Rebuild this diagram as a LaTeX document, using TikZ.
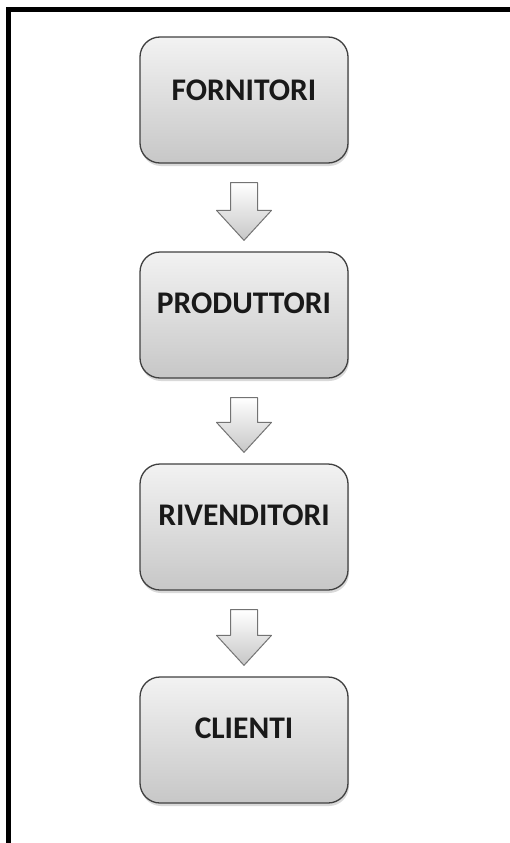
\documentclass[tikz,border=0pt]{standalone}
\usepackage{fontspec}
\setmainfont{Carlito}
\usetikzlibrary{shadows}
\begin{document}
\begin{tikzpicture}[x=1pt,y=-1pt,
  stagebox/.style={draw=black!75,line width=1.3pt,rounded corners=20pt,
    minimum width=208pt,minimum height=126pt,
    top color=black!5,bottom color=black!22,
    drop shadow={shadow xshift=1pt,shadow yshift=-3pt,opacity=0.25,fill=black!60}},
  stagelabel/.style={font=\fontsize{31.5}{38}\selectfont\bfseries,text=black!90},
  flowarrow/.style={draw=black!55,line width=1pt,line join=round,
    top color=white,bottom color=black!22}]
  \useasboundingbox (0,0) rectangle (510,843);
  % outer frame (left and top edges)
  \draw[line width=5pt] (8.5,843) -- (8.5,9.5) -- (510,9.5);

  % stages
  \node[stagebox] (s1) at (244,100) {};
  \node[stagebox] (s2) at (244,315) {};
  \node[stagebox] (s3) at (244,527) {};
  \node[stagebox] (s4) at (244,740) {};
  \node[stagelabel] (t1) at ([yshift=10pt]s1.center) {FORNITORI};
  \node[stagelabel] (t2) at ([yshift=12pt]s2.center) {PRODUTTORI};
  \node[stagelabel] (t3) at ([yshift=12pt]s3.center) {RIVENDITORI};
  \node[stagelabel] (t4) at ([yshift=12pt]s4.center) {CLIENTI};

  % block arrows between stages
  \foreach \t/\b in {s1/s2,s2/s3,s3/s4}{
    \path ([yshift=-19pt]\t.south) coordinate (top)
          ([yshift=11pt]\b.north) coordinate (tip);
    \path[flowarrow]
      ([xshift=-13.5pt]top) -- ([xshift=13.5pt]top)
      -- ([xshift=13.5pt,yshift=30pt]tip) -- ([xshift=27.5pt,yshift=30pt]tip)
      -- (tip) -- ([xshift=-27.5pt,yshift=30pt]tip)
      -- ([xshift=-13.5pt,yshift=30pt]tip) -- cycle;
  }
\end{tikzpicture}
\end{document}
